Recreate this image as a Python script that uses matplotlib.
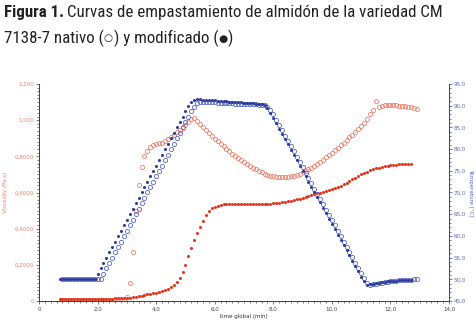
import numpy as np
import matplotlib
matplotlib.use("Agg")
import matplotlib.pyplot as plt
from matplotlib.ticker import MultipleLocator
from matplotlib import font_manager

# ---------------- data ----------------
t0_mod = 0.7   # first sample (min), sampling every 0.1 min
t0_nat = 0.8

visc_mod = [0.011, 0.011, 0.011, 0.011, 0.011, 0.011, 0.011, 0.011, 0.011, 0.011,
            0.012, 0.012, 0.012, 0.012, 0.012, 0.013, 0.013, 0.013, 0.013, 0.014, 0.014, 0.015, 0.015,
            0.017, 0.019, 0.021, 0.024, 0.027, 0.03, 0.033, 0.036, 0.039, 0.042,
            0.046, 0.05, 0.055, 0.061, 0.068, 0.077, 0.088, 0.103, 0.125, 0.158,
            0.2, 0.25, 0.295, 0.34, 0.375, 0.41, 0.445, 0.475, 0.497, 0.512,
            0.522, 0.528, 0.532, 0.535, 0.537, 0.538, 0.539, 0.539, 0.538, 0.537,
            0.537, 0.536, 0.536, 0.536, 0.536, 0.536, 0.537, 0.537, 0.538, 0.539,
            0.54, 0.541, 0.543, 0.545, 0.548, 0.551, 0.554, 0.558, 0.562, 0.566,
            0.57, 0.575, 0.58, 0.585, 0.59, 0.595, 0.6, 0.605, 0.61, 0.615,
            0.62, 0.626, 0.632, 0.638, 0.645, 0.653, 0.662, 0.672, 0.682, 0.692,
            0.701, 0.709, 0.716, 0.722, 0.728, 0.733, 0.737, 0.741, 0.744, 0.747,
            0.75, 0.752, 0.754, 0.756, 0.757, 0.758, 0.758, 0.759]

visc_nat = [0.008] * 22 + [
            0.02, 0.10, 0.27, 0.50, 0.64, 0.74, 0.80, 0.83, 0.85, 0.862,
            0.868, 0.872, 0.876, 0.885, 0.898, 0.908, 0.92, 0.932, 0.945, 0.958,
            0.972, 0.99, 1.005, 1.012, 0.995, 0.978, 0.962, 0.945, 0.928, 0.912,
            0.897, 0.883, 0.87, 0.855, 0.842, 0.828, 0.815, 0.802, 0.79, 0.778,
            0.767, 0.756, 0.746, 0.737, 0.728, 0.72, 0.712, 0.705, 0.699, 0.694,
            0.69, 0.687, 0.685, 0.684, 0.684, 0.686, 0.689, 0.693, 0.698, 0.704,
            0.711, 0.719, 0.728, 0.738, 0.748, 0.759, 0.77, 0.782, 0.794, 0.806,
            0.819, 0.833, 0.847, 0.861, 0.876, 0.89, 0.905, 0.92, 0.935, 0.95,
            0.966, 0.985, 1.008, 1.035, 1.055, 1.106, 1.072, 1.078, 1.083, 1.084,
            1.086, 1.083, 1.085, 1.08, 1.079, 1.081, 1.073, 1.074, 1.067, 1.062]

temp_mod = [50.0] * 13 + [
            51.2, 52.5, 53.7, 55.0, 56.2, 57.5, 58.7, 60.0, 61.2, 62.5,
            63.7, 65.0, 66.2, 67.5, 68.7, 70.0, 71.2, 72.5, 73.7, 75.0,
            76.2, 77.5, 78.7, 80.0, 81.2, 82.5, 83.7, 85.0, 86.2, 87.5,
            88.7, 89.9, 90.9, 91.4,
            91.5, 91.45, 91.4, 91.35, 91.3, 91.25, 91.2, 91.15, 91.1, 91.05,
            91.0, 90.95, 90.9, 90.85, 90.8, 90.75, 90.7, 90.65, 90.6, 90.55,
            90.5, 90.45, 90.35, 90.1, 89.5,
            88.4, 87.2, 86.0, 84.7, 83.5, 82.3, 81.1, 79.9, 78.6, 77.4,
            76.2, 75.0, 73.8, 72.5, 71.3, 70.1, 68.9, 67.7, 66.4, 65.2,
            64.0, 62.8, 61.6, 60.3, 59.1, 57.9, 56.7, 55.5, 54.2, 53.0,
            51.8, 50.6, 49.5, 48.8,
            48.9, 49.0, 49.1, 49.2, 49.3, 49.4, 49.5, 49.6, 49.65, 49.7,
            49.75, 49.8, 49.85, 49.9, 49.95]

temp_nat = [50.0] * 14 + [
            51.2, 52.5, 53.7, 55.0, 56.2, 57.5, 58.7, 60.0, 61.2, 62.5,
            63.7, 65.0, 66.2, 67.5, 68.7, 70.0, 71.2, 72.5, 73.7, 75.0,
            76.2, 77.5, 78.7, 80.0, 81.2, 82.5, 83.7, 85.0, 86.2, 87.5,
            88.7, 89.8, 90.6, 90.9,
            90.9, 90.85, 90.8, 90.8, 90.75, 90.7, 90.7, 90.65, 90.6, 90.6,
            90.55, 90.5, 90.5, 90.45, 90.4, 90.4, 90.35, 90.3, 90.3, 90.25,
            90.2, 90.1, 89.8, 89.0,
            88.0, 86.8, 85.6, 84.3, 83.1, 81.9, 80.7, 79.5, 78.2, 77.0,
            75.8, 74.6, 73.4, 72.1, 70.9, 69.7, 68.5, 67.3, 66.0, 64.8,
            63.6, 62.4, 61.2, 59.9, 58.7, 57.5, 56.3, 55.1, 53.8, 52.6,
            51.4, 50.2, 49.2, 48.8,
            48.9, 49.0, 49.1, 49.2, 49.3, 49.4, 49.5, 49.6, 49.7, 49.75,
            49.8, 49.85, 49.9, 49.95, 50.0, 50.05]

x_ticks = [0, 2, 4, 6, 8, 10, 12, 14]
x_ticklabels = ["0", "2,0", "4,0", "6,0", "8,0", "10,0", "12,0", "14,0"]
visc_ticks = [0, 0.2, 0.4, 0.6, 0.8, 1.0, 1.2]
visc_ticklabels = ["0", "0,2000", "0,4000", "0,6000", "0,8000", "1,000", "1,200"]
temp_ticks = [45, 50, 55, 60, 65, 70, 75, 80, 85, 90, 95]
temp_ticklabels = ["45,0", "50,0", "55,0", "60,0", "65,0", "70,0", "75,0",
                   "80,0", "85,0", "90,0", "95,0"]

t_mod = t0_mod + 0.1 * np.arange(len(visc_mod))
t_nat = t0_nat + 0.1 * np.arange(len(visc_nat))
tt_mod = t0_mod + 0.1 * np.arange(len(temp_mod))
tt_nat = t0_nat + 0.1 * np.arange(len(temp_nat))

# ---------------- style ----------------
RED_F = "#e2351f"
RED_O = "#f0806c"
BLUE_F = "#2b3c9c"
BLUE_O = "#5868c4"

# pick a narrow / condensed face if one is installed
names = {f.name for f in font_manager.fontManager.ttflist}
stretch = "normal"
pref = ["Liberation Sans Narrow", "Roboto Condensed", "Open Sans Condensed",
        "Noto Sans Condensed", "DejaVu Sans Condensed"]
narrow = [n for n in pref if n in names]
if not narrow:
    narrow = sorted(n for n in names if "Narrow" in n or "Condensed" in n)
if narrow:
    TITLE_FONT = [narrow[0], "DejaVu Sans"]
else:
    has_dv_cond = any(f.name == "DejaVu Sans" and "condensed" in str(f.stretch).lower()
                      for f in font_manager.fontManager.ttflist)
    TITLE_FONT = ["DejaVu Sans"]
    if has_dv_cond:
        stretch = "condensed"
    else:
        TITLE_FONT = ["Roboto", "DejaVu Sans"]

fig = plt.figure(figsize=(4.76, 3.26), dpi=100)
ax = fig.add_axes([39 / 476, 25 / 326, 410 / 476, 217 / 326])
ax2 = ax.twinx()

ax.plot(t_nat, visc_nat, ls="none", marker="o", ms=3.0, mfc="none",
        mec=RED_O, mew=0.6)
ax.plot(t_mod, visc_mod, ls="none", marker="o", ms=2.2, mfc=RED_F,
        mec=RED_F, mew=0)
ax2.plot(tt_nat, temp_nat, ls="none", marker="o", ms=3.0, mfc="none",
         mec=BLUE_O, mew=0.6)
ax2.plot(tt_mod, temp_mod, ls="none", marker="o", ms=2.2, mfc=BLUE_F,
         mec=BLUE_F, mew=0)

ax.set_xlim(0, 14)
ax.set_ylim(0, 1.2)
ax2.set_ylim(45, 95)

ax.set_xticks(x_ticks)
ax.set_xticklabels(x_ticklabels)
ax.set_yticks(visc_ticks)
ax.set_yticklabels(visc_ticklabels)
ax2.set_yticks(temp_ticks)
ax2.set_yticklabels(temp_ticklabels)
ax.xaxis.set_minor_locator(MultipleLocator(0.2))
ax.yaxis.set_minor_locator(MultipleLocator(0.02))
ax2.yaxis.set_minor_locator(MultipleLocator(1))

for a in (ax, ax2):
    a.spines["top"].set_visible(False)
    a.spines["left"].set_color("#444444")
    a.spines["bottom"].set_color("#444444")
    a.spines["right"].set_color("#3a4a8a")
    for s in a.spines.values():
        s.set_linewidth(0.7)

ax.tick_params(axis="x", which="major", length=2.5, width=0.5, labelsize=4,
               colors="#444444", pad=2)
ax.tick_params(axis="x", which="minor", length=1.5, width=0.5, colors="#444444")
ax.tick_params(axis="y", which="major", length=2.5, width=0.5, labelsize=4,
               color="#444444", labelcolor=RED_O, pad=1)
ax.tick_params(axis="y", which="minor", length=1.5, width=0.5, color="#444444")
ax2.tick_params(axis="y", which="major", length=2.5, width=0.5, labelsize=4,
                color="#3a4a8a", labelcolor=BLUE_O, pad=1)
ax2.tick_params(axis="y", which="minor", length=1.5, width=0.5, color="#3a4a8a")

ax.set_xlabel("time global (min)", fontsize=4, color="#333333", labelpad=1)
ax.set_ylabel("Viscosity (Pa.s)", fontsize=4, color=RED_O, labelpad=5)
ax2.set_ylabel("Temperature [°C]", fontsize=4, color=BLUE_O, rotation=270,
               labelpad=5)

# ---------------- title ----------------
line1_bold = "Figura 1."
line1_rest = "Curvas de empastamiento de almidón de la variedad CM"
# (text, size scale, raise in px)
line2_parts = [("7138-7 nativo (", 1.0, 0.0), ("○", 0.62, 1.5),
               (") y modificado (", 1.0, 0.0), ("●", 0.62, 1.0), (")", 1.0, 0.0)]
x_left, x_right = 4.0, 440.0
base1, base2 = 17.0, 43.0
gap_px = 3.0

fs = 12.0
r = fig.canvas.get_renderer()
for _ in range(3):
    ta = fig.text(0, 0, line1_bold, fontsize=fs, fontweight="bold",
                  family=TITLE_FONT, fontstretch=stretch)
    tb = fig.text(0, 0, line1_rest, fontsize=fs, family=TITLE_FONT,
                  fontstretch=stretch)
    w = ta.get_window_extent(r).width + gap_px + tb.get_window_extent(r).width
    ta.remove()
    tb.remove()
    fs = min(13.0, fs * (x_right - x_left) / w)

t1 = fig.text(x_left / 476, 1 - base1 / 326, line1_bold, fontsize=fs,
              fontweight="bold", family=TITLE_FONT, fontstretch=stretch,
              color="#222222", va="baseline", ha="left")
bb = t1.get_window_extent(r)
fig.text((bb.x1 + gap_px) / 476, 1 - base1 / 326, line1_rest,
         fontsize=fs, family=TITLE_FONT, fontstretch=stretch, color="#222222",
         va="baseline", ha="left")

xpos = x_left
for txt, scale, lift in line2_parts:
    tp = fig.text(xpos / 476, 1 - (base2 - lift) / 326, txt,
                  fontsize=fs * scale, family=TITLE_FONT, fontstretch=stretch,
                  color="#222222", va="baseline", ha="left")
    xpos = tp.get_window_extent(r).x1 + (0.5 if scale < 1 else 0.0)

fig.savefig("out.png", dpi=100)
